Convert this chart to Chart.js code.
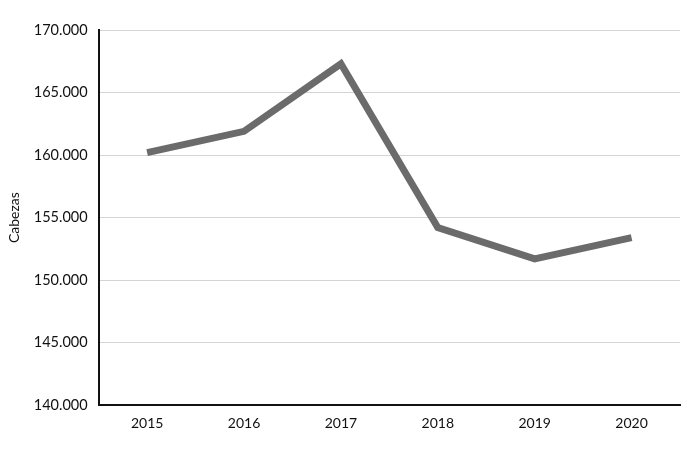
<!DOCTYPE html>
<html><head><meta charset="utf-8">
<script src="https://cdn.jsdelivr.net/npm/chart.js@4"></script>
<style>html,body{margin:0;padding:0;background:#fff;}#wrap{width:685px;height:464px;}</style>
</head><body><div id="wrap"><canvas id="c"></canvas></div>
<script>
const categories = ["2015","2016","2017","2018","2019","2020"];
const cabezas = [160200, 161900, 167300, 154200, 151700, 153400];
const yTicks = [140000,145000,150000,155000,160000,165000,170000];

const fmt = v => v.toLocaleString('de-DE');
new Chart(document.getElementById('c'), {
  type: 'line',
  data: { labels: categories, datasets: [{ data: cabezas, borderColor: '#6b6b6b', borderWidth: 7, pointRadius: 0, tension: 0, fill: false, borderJoinStyle: 'miter' }] },
  options: {
    responsive: true, maintainAspectRatio: false, animation: false,
    layout: { padding: { top: 30, right: 5, bottom: 22, left: 6 } },
    plugins: { legend: { display: false }, tooltip: { enabled: false } },
    scales: {
      x: { offset: true, grid: { display: false, drawTicks: false }, border: { color: '#111', width: 2 },
           ticks: { color: '#111', font: { family: 'Lato, sans-serif', size: 14 }, padding: 10 } },
      y: { min: 140000, max: 170000, afterBuildTicks: ax => { ax.ticks = yTicks.map(v => ({ value: v })); },
           grid: { color: '#d4d4d4', drawTicks: false, lineWidth: 1 }, border: { color: '#111', width: 2 },
           ticks: { color: '#111', font: { family: 'Lato, sans-serif', size: 14.5 }, padding: 11, callback: v => fmt(v) },
           title: { display: true, text: 'Cabezas', color: '#111', font: { family: 'Lato, sans-serif', size: 14 }, padding: { top: 0, bottom: 0 } } }
    }
  }
});
</script></body></html>
